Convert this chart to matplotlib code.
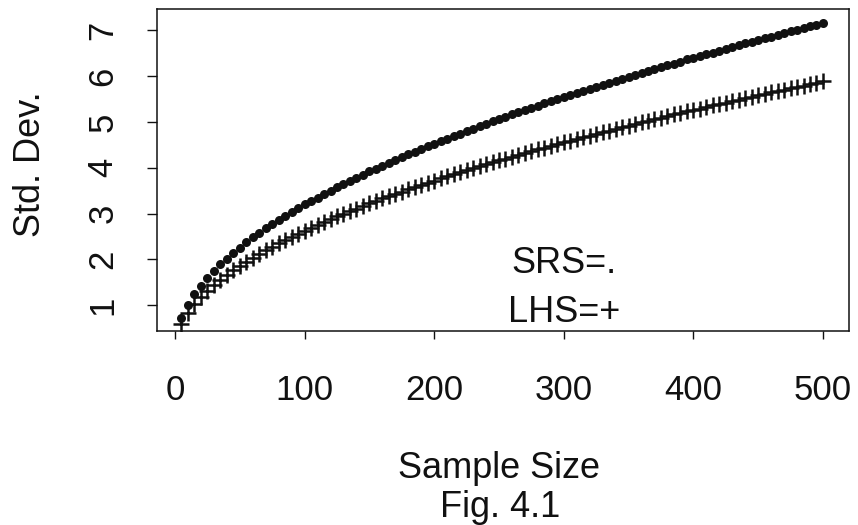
import matplotlib
matplotlib.use("Agg")
import matplotlib.pyplot as plt

plt.rcParams['font.family'] = ['Liberation Sans', 'DejaVu Sans']

# Sample sizes (x axis)
sample_size = list(range(5, 505, 5))

# Std. Dev. for simple random sampling (dots)
srs_sd = [0.72, 1.01, 1.24, 1.43, 1.60, 1.75, 1.89, 2.02, 2.15, 2.26,
          2.37, 2.48, 2.58, 2.68, 2.77, 2.86, 2.95, 3.03, 3.12, 3.20,
          3.28, 3.35, 3.43, 3.50, 3.58, 3.65, 3.72, 3.78, 3.85, 3.92,
          3.98, 4.04, 4.11, 4.17, 4.23, 4.29, 4.35, 4.41, 4.47, 4.52,
          4.58, 4.63, 4.69, 4.74, 4.80, 4.85, 4.90, 4.95, 5.01, 5.06,
          5.11, 5.16, 5.21, 5.25, 5.30, 5.35, 5.40, 5.45, 5.49, 5.54,
          5.58, 5.63, 5.68, 5.72, 5.76, 5.81, 5.85, 5.90, 5.94, 5.98,
          6.02, 6.07, 6.11, 6.15, 6.19, 6.23, 6.27, 6.31, 6.36, 6.40,
          6.44, 6.47, 6.51, 6.55, 6.59, 6.63, 6.67, 6.71, 6.75, 6.78,
          6.82, 6.86, 6.90, 6.93, 6.97, 7.01, 7.04, 7.08, 7.11, 7.15]

# Std. Dev. for Latin hypercube sampling (crosses)
lhs_sd = [0.59, 0.83, 1.02, 1.18, 1.31, 1.44, 1.56, 1.66, 1.76, 1.86,
          1.95, 2.04, 2.12, 2.20, 2.28, 2.35, 2.42, 2.49, 2.56, 2.63,
          2.69, 2.76, 2.82, 2.88, 2.94, 3.00, 3.06, 3.11, 3.17, 3.22,
          3.27, 3.33, 3.38, 3.43, 3.48, 3.53, 3.58, 3.62, 3.67, 3.72,
          3.77, 3.81, 3.86, 3.90, 3.94, 3.99, 4.03, 4.07, 4.12, 4.16,
          4.20, 4.24, 4.28, 4.32, 4.36, 4.40, 4.44, 4.48, 4.52, 4.55,
          4.59, 4.63, 4.67, 4.70, 4.74, 4.78, 4.81, 4.85, 4.88, 4.92,
          4.95, 4.99, 5.02, 5.06, 5.09, 5.13, 5.16, 5.19, 5.23, 5.26,
          5.29, 5.32, 5.36, 5.39, 5.42, 5.45, 5.48, 5.52, 5.55, 5.58,
          5.61, 5.64, 5.67, 5.70, 5.73, 5.76, 5.79, 5.82, 5.85, 5.88]

x_ticks = [0, 100, 200, 300, 400, 500]
y_ticks = [1, 2, 3, 4, 5, 6, 7]

W, H = 858, 525
fig = plt.figure(figsize=(W / 100, H / 100), dpi=100)
L, R, T, B = 157, 849, 9, 331
ax = fig.add_axes([L / W, (H - B) / H, (R - L) / W, (B - T) / H])

ax.plot(sample_size, srs_sd, linestyle='none', marker='o', markersize=6.5,
        color='#111111', markeredgewidth=0)
ax.plot(sample_size, lhs_sd, linestyle='none', marker='+', markersize=11.5,
        color='#111111', markeredgewidth=1.8)

ax.set_xlim(-13.9, 520.1)
ax.set_ylim(0.44, 7.46)
ax.set_xticks(x_ticks)
ax.set_xticklabels([str(v) for v in x_ticks])
ax.set_yticks(y_ticks)
ax.set_yticklabels([str(v) for v in y_ticks], rotation=90, va='center')

fs = 25
ax.tick_params(axis='x', direction='out', length=6, width=1.0, pad=25,
               labelsize=fs, colors='#111111')
ax.tick_params(axis='y', direction='out', length=7, width=1.0, pad=20,
               labelsize=fs, colors='#111111')
for s in ax.spines.values():
    s.set_linewidth(1.1)
    s.set_color('#111111')

ax.text(300.2, 1.70, 'SRS=.', ha='center', va='baseline', fontsize=fs + 1,
        color='#111111')
ax.text(300.5, 0.643, 'LHS=+', ha='center', va='baseline', fontsize=fs + 1,
        color='#111111')

fig.text(499 / W, (H - 478) / H, 'Sample Size', ha='center', va='baseline',
         fontsize=fs + 1, color='#111111')
fig.text(500 / W, (H - 517) / H, 'Fig. 4.1', ha='center', va='baseline',
         fontsize=fs + 1, color='#111111')
fig.text(31 / W, (H - 164) / H, 'Std. Dev.', ha='center', va='center',
         rotation=90, fontsize=fs + 1, color='#111111')

fig.savefig('out.png', dpi=100)
